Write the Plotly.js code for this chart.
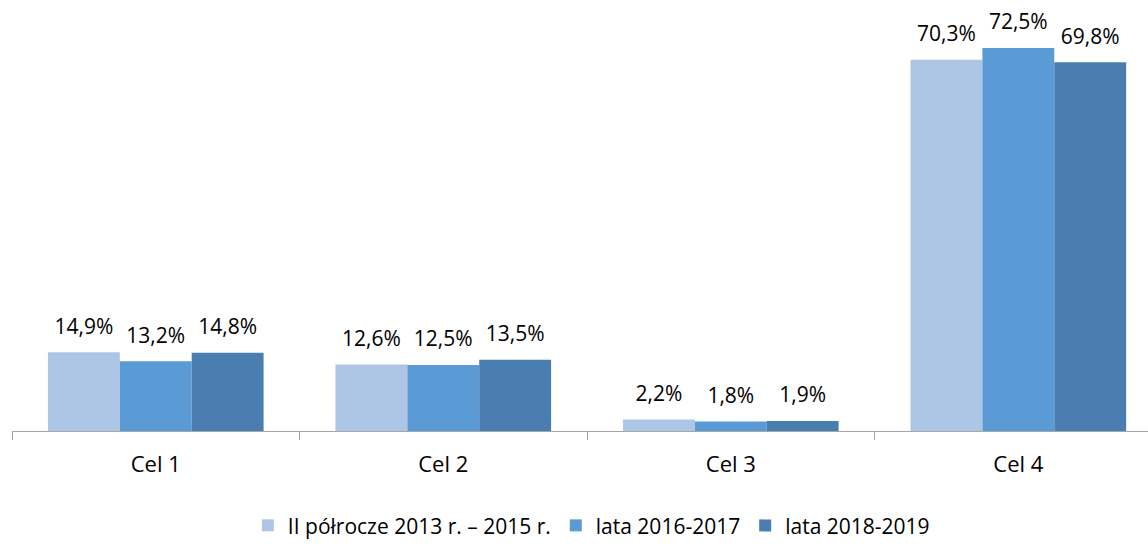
<!DOCTYPE html>
<html><head><meta charset="utf-8">
<script src="https://cdn.plot.ly/plotly-3.0.1.min.js"></script>
<style>html,body{margin:0;padding:0;background:#fff;}</style>
</head><body>
<div id="chart" style="width:1148px;height:546px;"></div>
<script>
const categories = ["Cel 1", "Cel 2", "Cel 3", "Cel 4"];
const seriesNames = ["II półrocze 2013 r. – 2015 r.", "lata 2016-2017", "lata 2018-2019"];
const series1 = [14.9, 12.6, 2.2, 70.3];
const series2 = [13.2, 12.5, 1.8, 72.5];
const series3 = [14.8, 13.5, 1.9, 69.8];
const colors = ["#AEC6E6", "#5B9BD5", "#4A7EB1"];
const font = "'Open Sans', sans-serif";
const allSeries = [series1, series2, series3];

const bars = allSeries.map((vals, i) => ({
  type: "bar",
  name: seriesNames[i],
  x: categories,
  y: vals,
  marker: {color: colors[i], line: {width: 0}},
  hoverinfo: "none"
}));
const labels = allSeries.map((vals, i) => ({
  type: "scatter",
  mode: "markers+text",
  showlegend: false,
  x: categories,
  y: vals,
  text: vals.map(v => v.toFixed(1).replace(".", ",") + "%"),
  textposition: "top center",
  marker: {size: 20, opacity: 0},
  cliponaxis: false,
  textfont: {family: font, size: 21, color: "#000"}
}));

const layout = {
  width: 1148, height: 546,
  margin: {l: 12, r: 0, t: 10, b: 115, autoexpand: false},
  paper_bgcolor: "#fff", plot_bgcolor: "#fff",
  barmode: "group", bargap: 0.25, bargroupgap: 0,
  scattermode: "group", scattergap: 0.25,
  font: {family: font, size: 21, color: "#000"},
  showlegend: true,
  legend: {orientation: "h", x: 0.51, xanchor: "center", y: -0.225, yanchor: "middle",
           itemwidth: 30, tracegroupgap: 0,
           font: {family: font, size: 21, color: "#000"}, traceorder: "normal"},
  xaxis: {
    type: "category", range: [-0.5, 3.451], tickson: "boundaries",
    showline: true, linecolor: "#A6A6A6", linewidth: 1,
    ticks: "outside", ticklen: 8, tickcolor: "#A6A6A6",
    ticklabelstandoff: 14,
    tickfont: {family: font, size: 22, color: "#000"},
    showgrid: false, zeroline: false
  },
  yaxis: {range: [0, 79.7], visible: false, showgrid: false, zeroline: false},
};
Plotly.newPlot("chart", bars.concat(labels), layout, {displayModeBar: false, staticPlot: true});
</script>
</body></html>
